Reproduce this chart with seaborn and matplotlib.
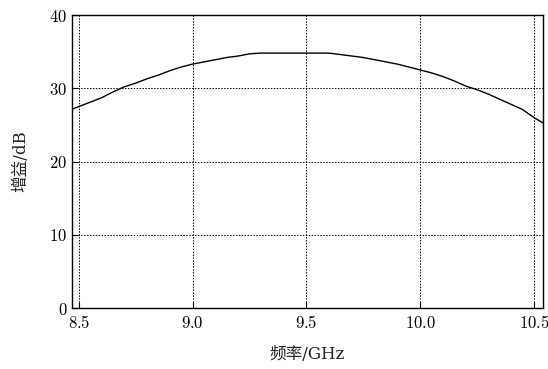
import matplotlib
matplotlib.use("Agg")
import matplotlib.pyplot as plt
import seaborn as sns
import pandas as pd
from matplotlib.ticker import FixedLocator, FuncFormatter

freq = [8.45, 8.50, 8.55, 8.60, 8.65, 8.70, 8.75, 8.80, 8.85, 8.90, 8.95,
        9.00, 9.05, 9.10, 9.15, 9.20, 9.25, 9.30, 9.35, 9.40, 9.45, 9.50,
        9.55, 9.60, 9.65, 9.70, 9.75, 9.80, 9.85, 9.90, 9.95, 10.00, 10.05,
        10.10, 10.15, 10.20, 10.25, 10.30, 10.35, 10.40, 10.45, 10.50, 10.55]
gain = [26.9, 27.5, 28.1, 28.7, 29.5, 30.2, 30.7, 31.3, 31.8, 32.4, 32.9,
        33.3, 33.6, 33.9, 34.2, 34.4, 34.7, 34.8, 34.8, 34.8, 34.8, 34.8,
        34.8, 34.8, 34.6, 34.4, 34.2, 33.9, 33.6, 33.3, 32.9, 32.5, 32.1,
        31.6, 31.0, 30.3, 29.8, 29.2, 28.5, 27.8, 27.1, 26.0, 25.1]
xticks = [8.5, 9.0, 9.5, 10.0, 10.5]
yticks = [0, 10, 20, 30, 40]
xlabel = "频率/GHz"
ylabel = "增益/dB"

sns.set_theme(style="white")
plt.rcParams['mathtext.fontset'] = 'cm'
plt.rcParams['font.family'] = ['DejaVu Serif', 'Noto Sans CJK SC']

df = pd.DataFrame({"freq": freq, "gain": gain})
fig = plt.figure(figsize=(5.48, 3.69), dpi=100)
ax = fig.add_axes([0.1314, 0.1653, 0.8595, 0.794])
sns.lineplot(data=df, x="freq", y="gain", ax=ax, color="black", linewidth=1.0)
ax.set_xlim(8.47, 10.54)
ax.set_ylim(0, 40)
ax.xaxis.set_major_locator(FixedLocator(xticks))
ax.yaxis.set_major_locator(FixedLocator(yticks))
ax.xaxis.set_major_formatter(FuncFormatter(lambda v, p: r"$%.1f$" % v))
ax.yaxis.set_major_formatter(FuncFormatter(lambda v, p: r"$%d$" % v))
ax.tick_params(direction="in", length=4, width=0.8, colors="black", labelsize=12,
               bottom=True, left=True, top=False, right=False)
ax.tick_params(axis="x", pad=5)
ax.grid(True, color="black", linestyle=(0, (1.5, 1.5)), linewidth=0.7)
for s in ax.spines.values():
    s.set_color("black")
    s.set_linewidth(1.0)
ax.set_xlabel(xlabel, fontsize=12, labelpad=10, color="#222222")
ax.set_ylabel(ylabel, fontsize=12, labelpad=14, color="#222222")
fig.savefig("out.png", dpi=100, facecolor="white")
